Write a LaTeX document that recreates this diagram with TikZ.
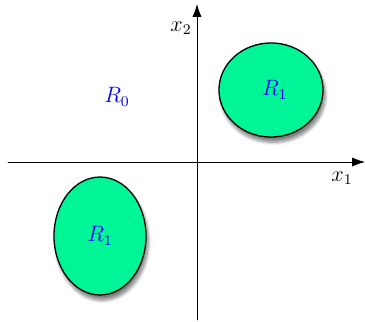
\documentclass[tikz,border=0pt]{standalone}
\usetikzlibrary{arrows.meta,shapes.geometric,shadows.blur}

\definecolor{regiongreen}{RGB}{0,245,150}

\tikzset{
  axis/.style={line width=0.45pt,-{Latex[length=7pt,width=5pt]}},
  region/.style={ellipse,draw=black,line width=0.7pt,fill=regiongreen,
    inner sep=0pt,text=blue,
    blur shadow={shadow xshift=1.2pt,shadow yshift=-2.8pt,shadow blur steps=8,shadow opacity=50}},
  lbl/.style={inner sep=1pt}
}

\begin{document}
\begin{tikzpicture}[x=0.54pt,y=-0.54pt,line cap=round,line join=round,
  every node/.append style={font=\fontsize{11.5}{14}\selectfont}]

\useasboundingbox (0,0) rectangle (365,321);

% -----------------------
% Axes
% -----------------------
\coordinate (xleft)  at (8,162);
\coordinate (xright) at (365,162);
\coordinate (ybot)   at (197,320);
\coordinate (ytop)   at (197,4);

\draw[axis] (xleft) -- (xright);
\draw[axis] (ybot) -- (ytop);

\node[lbl] (xonelbl) at (342,178) {$x_1$};
\node[lbl] (xtwolbl) at (181,28) {$x_2$};

% -----------------------
% Regions
% -----------------------
\node[region,minimum width=56.2pt,minimum height=50.8pt] (Rup)  at (271,90)  {\hspace*{4pt}$R_1$};
\node[region,minimum width=49.7pt,minimum height=63.7pt] (Rlow) at (100,236) {$R_1$};

\node[lbl,text=blue] (Rzero) at (117,97) {$R_0$};

\end{tikzpicture}
\end{document}
